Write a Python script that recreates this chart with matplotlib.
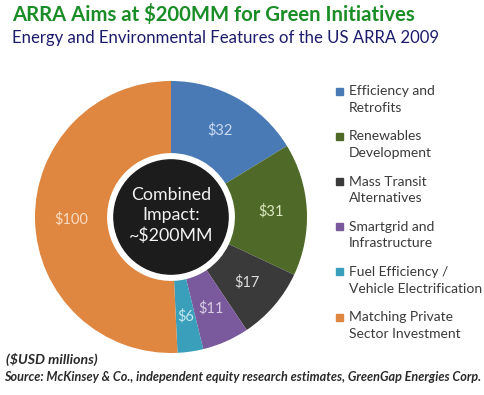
import matplotlib.pyplot as plt
from matplotlib.patches import Circle, Rectangle

plt.rcParams['font.family'] = ['Lato', 'DejaVu Sans']

categories = ['Efficiency and\nRetrofits', 'Renewables\nDevelopment', 'Mass Transit\nAlternatives',
              'Smartgrid and\nInfrastructure', 'Fuel Efficiency /\nVehicle Electrification',
              'Matching Private\nSector Investment']
values = [32, 31, 17, 11, 6, 100]
colors = ['#4a7ab5', '#4f6a28', '#3a3a3a', '#7a5a9c', '#3a9fba', '#df8640']
label_colors = ['#c9dbf2', '#dbe8bf', '#dcdcdc', '#d8cce6', '#c4e6f0', '#fbdcc2']

W, H = 485, 395
fig = plt.figure(figsize=(W / 100, H / 100), dpi=100)

# titles
fig.text(12 / W, 1 - 15 / H, 'ARRA Aims at $200MM for Green Initiatives', color='#1a8d26',
         fontsize=14.6, fontweight='bold', va='center', ha='left')
fig.text(12 / W, 1 - 38 / H, 'Energy and Environmental Features of the US ARRA 2009', color='#1c1c6c',
         fontsize=12.1, va='center', ha='left')

# donut
cx, cy, r = 171, 217, 136
ax = fig.add_axes([(cx - r) / W, (H - cy - r) / H, 2 * r / W, 2 * r / H])
total = sum(values)
wedges, texts, autotexts = ax.pie(values, colors=colors, startangle=90, counterclock=False,
                                  wedgeprops=dict(width=0.53, linewidth=0),
                                  autopct=lambda p: f'${p * total / 100:.0f}', pctdistance=0.735)
for t, c in zip(autotexts, label_colors):
    t.set_color(c)
    t.set_fontsize(10.5)
ax.set_xlim(-1, 1)
ax.set_ylim(-1, 1)
ax.add_patch(Circle((0, 0), 0.42, color='#1c1c1c', zorder=3))
ax.text(0, 0.01, 'Combined\nImpact:\n~$200MM', color='#f2f2f2', fontsize=12.8, ha='center', va='center',
        linespacing=1.3, zorder=4)

# legend
for i, (cat, col) in enumerate(zip(categories, colors)):
    y = 91 + i * 45.2
    fig.patches.append(Rectangle((336 / W, 1 - (y + 3.5) / H), 7 / W, 7 / H, color=col,
                                 transform=fig.transFigure))
    fig.text(349 / W, 1 - (y + 8.5) / H, cat, color='#3a3a3a', fontsize=10, va='center', ha='left',
             linespacing=1.45)

fig.text(6 / W, 1 - 359 / H, '($USD millions)', color='#2a2a2a', fontsize=10.2, fontweight='bold',
         fontstyle='italic', va='center', ha='left')
fig.text(4 / W, 1 - 377 / H,
         'Source: McKinsey & Co., independent equity research estimates, GreenGap Energies Corp.',
         color='#2a2a2a', fontsize=9.1, fontweight='bold', fontstyle='italic', va='center', ha='left')

fig.savefig('out.png', dpi=100)
